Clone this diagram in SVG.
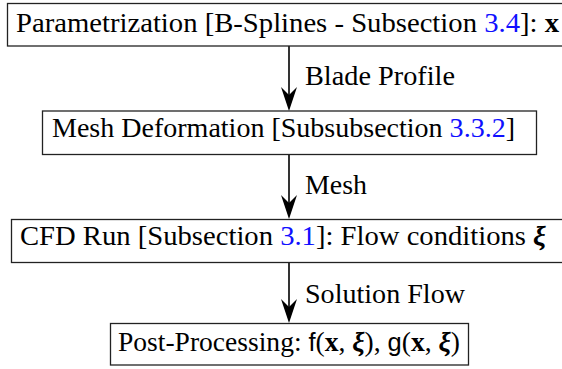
<svg xmlns="http://www.w3.org/2000/svg" width="562" height="369" viewBox="0 0 562 369">
<style>
.box{fill:#fff;stroke:#222;stroke-width:1.3}
text{font-family:'Liberation Serif','Times New Roman',serif;font-size:27px;fill:#000}
.ref{fill:#1010ff}
.bx{font-weight:bold}
.xi{font-weight:bold;font-style:italic}
.sf{font-family:'Liberation Sans',Arial,sans-serif;font-size:25px}
.edge{stroke:#000;stroke-width:1.6;fill:none}
.ah{fill:#000}
</style>
<g id="connectors">
<line class="edge" x1="289" y1="46" x2="289" y2="100"/>
<path class="ah" d="M289,111 L281,87 L289,95 L297,87 Z"/>
<text x="305" y="85" textLength="150" lengthAdjust="spacingAndGlyphs">Blade Profile</text>
<line class="edge" x1="289" y1="155" x2="289" y2="208"/>
<path class="ah" d="M289,219 L281,195 L289,203 L297,195 Z"/>
<text x="305" y="194" textLength="62" lengthAdjust="spacingAndGlyphs">Mesh</text>
<line class="edge" x1="289" y1="263" x2="289" y2="312"/>
<path class="ah" d="M289,323 L281,299 L289,307 L297,299 Z"/>
<text x="305" y="303" textLength="160" lengthAdjust="spacingAndGlyphs">Solution Flow</text>
</g>
<g id="parametrization">
<rect class="box" x="7.5" y="3.5" width="563" height="42.5"/>
<text x="16" y="32" textLength="543" lengthAdjust="spacingAndGlyphs">Parametrization [B-Splines - Subsection <tspan class="ref">3.4</tspan>]: <tspan class="bx">x</tspan></text>
</g>
<g id="mesh-deformation">
<rect class="box" x="42.5" y="111" width="494" height="43.5"/>
<text x="52" y="137" textLength="463" lengthAdjust="spacingAndGlyphs">Mesh Deformation [Subsubsection <tspan class="ref">3.3.2</tspan>]</text>
</g>
<g id="cfd-run">
<rect class="box" x="11.5" y="219.5" width="555" height="43"/>
<text x="20" y="245" textLength="526" lengthAdjust="spacingAndGlyphs">CFD Run [Subsection <tspan class="ref">3.1</tspan>]: Flow conditions <tspan class="xi">ξ</tspan></text>
</g>
<g id="post-processing">
<rect class="box" x="110.5" y="323.5" width="358" height="41.5"/>
<text x="118" y="351" textLength="342" lengthAdjust="spacingAndGlyphs">Post-Processing: <tspan class="sf">f</tspan>(<tspan class="bx">x</tspan>, <tspan class="xi">ξ</tspan>), <tspan class="sf">g</tspan>(<tspan class="bx">x</tspan>, <tspan class="xi">ξ</tspan>)</text>
</g>
</svg>
